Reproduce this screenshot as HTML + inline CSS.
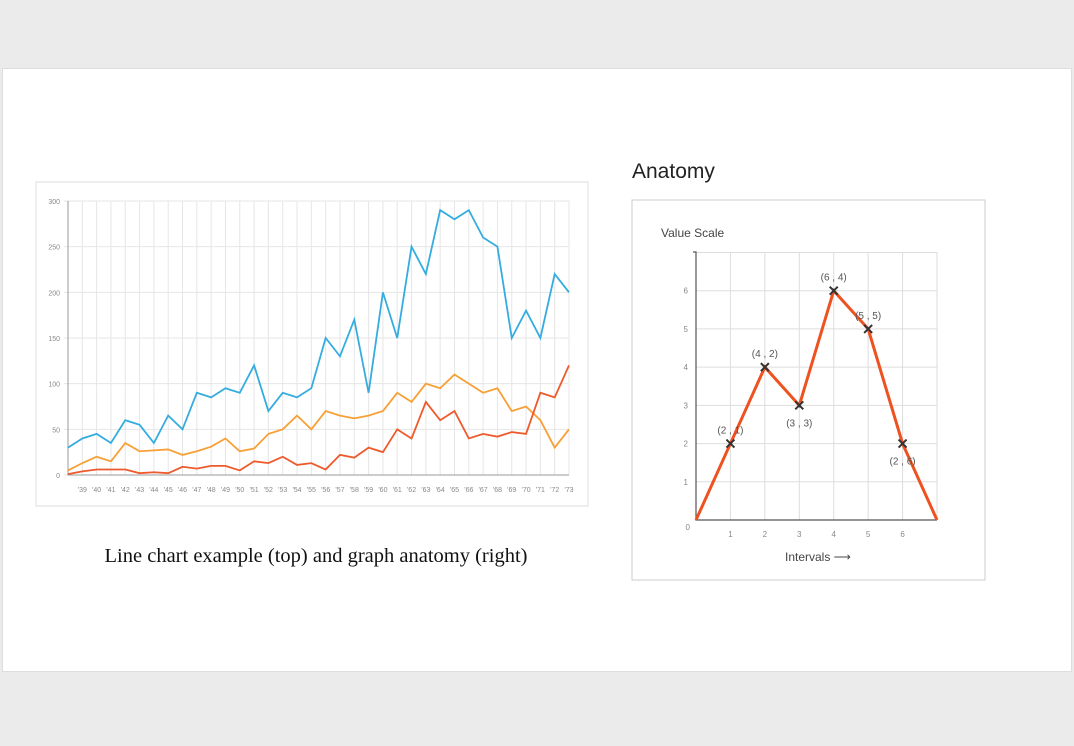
<!DOCTYPE html>
<html><head><meta charset="utf-8">
<style>
body{margin:0;background:#ebebeb;width:1074px;height:746px;overflow:hidden;font-family:"Liberation Sans",sans-serif;}
#slide{position:absolute;left:2px;top:68px;width:1070px;height:604px;background:#fff;border:1px solid #ddd;box-sizing:border-box;}
svg{position:absolute;left:0;top:0;}
</style></head><body>
<div id="slide"></div>
<svg id="s" width="1074" height="746">
<rect x="36" y="182" width="552" height="324" fill="#fff" stroke="#ddd"/>
<rect x="632" y="200" width="353" height="380" fill="#fff" stroke="#ccc"/>
<text x="632" y="178" font-size="21" fill="#222">Anatomy</text>
<text x="316" y="562" font-size="20.5" font-family="Liberation Serif,serif" text-anchor="middle" fill="#111">Line chart example (top) and graph anatomy (right)</text>
<g id="g1"></g><g id="g2"></g>
</svg>
<script>
const years=[];for(let y=38;y<=73;y++)years.push(y);
const blueVals=[30,40,45,35,60,55,35,65,50,90,85,95,90,120,70,90,85,95,150,130,170,90,200,150,250,220,290,280,290,260,250,150,180,150,220,200];
const orangeVals=[5,13,20,15,35,26,27,28,22,26,31,40,26,29,45,50,65,50,70,65,62,65,70,90,80,100,95,110,100,90,95,70,75,60,30,50];
const redVals=[1,4,6,6,6,2,3,2,9,7,10,10,5,15,13,20,11,13,6,22,19,30,25,50,40,80,60,70,40,45,42,47,45,90,85,120];
const yTicks=[0,50,100,150,200,250,300];
const NS='http://www.w3.org/2000/svg';
function mk(p,t,a){const e=document.createElementNS(NS,t);for(const k in a)e.setAttribute(k,a[k]);p.appendChild(e);return e;}
const g1=document.getElementById('g1');
const X=i=>68+i*(569-68)/35, Y=v=>475-v*(475-201)/300;
for(let i=0;i<years.length;i++){const l=mk(g1,'line',{x1:X(i),x2:X(i),y1:201,y2:475,stroke:'#e6e6e6'});

if(i>0){const t=mk(g1,'text',{x:X(i),y:492,'font-size':7,fill:'#888','text-anchor':'middle'});t.textContent="'"+years[i];
}}
yTicks.forEach(v=>{const l=mk(g1,'line',{x1:64,x2:569,y1:Y(v),y2:Y(v),stroke:'#e6e6e6'});

const t=mk(g1,'text',{x:60,y:Y(v)+3,'font-size':7,fill:'#888','text-anchor':'end'});t.textContent=v;
});
let ax=mk(g1,'path',{d:'M68 201V475H569',fill:'none',stroke:'#999'});

[[blueVals,'#35ace0','blue-series'],[orangeVals,'#f7a035','orange-series'],[redVals,'#ee5a2c','red-series']].forEach(([d,c,n])=>{
const p=mk(g1,'polyline',{points:d.map((v,i)=>X(i)+','+Y(v)).join(' '),fill:'none',stroke:c,'stroke-width':1.8});
});
// anatomy
const axVals=[0,1,2,3,4,5,6,7];
const ayVals=[0,2,4,3,6,5,2,0];
const ptLabels=['','(2 , 1)','(4 , 2)','(3 , 3)','(6 , 4)','(5 , 5)','(2 , 6)',''];
const g2=document.getElementById('g2');
const AX=v=>696+v*(937-696)/7, AY=v=>520-v*(520-290.7)/6;
for(let v=1;v<=7;v++){const l=mk(g2,'line',{x1:AX(v),x2:AX(v),y1:252,y2:520,stroke:'#ddd'});

if(v<7){const t=mk(g2,'text',{x:AX(v),y:537,'font-size':8,fill:'#888','text-anchor':'middle'});t.textContent=v;
}}
for(let v=1;v<=7;v++){const l=mk(g2,'line',{x1:696,x2:937,y1:AY(v),y2:AY(v),stroke:'#ddd'});

if(v<7){const t=mk(g2,'text',{x:688,y:AY(v)+3,'font-size':8,fill:'#888','text-anchor':'end'});t.textContent=v;
}}
let z=mk(g2,'text',{x:690,y:530,'font-size':8,fill:'#888','text-anchor':'end'});z.textContent='0';

ax=mk(g2,'path',{d:'M693 252H696V520H937',fill:'none',stroke:'#555','stroke-width':1.2});

let t=mk(g2,'text',{x:661,y:237,'font-size':12,fill:'#444'});t.textContent='Value Scale';

t=mk(g2,'text',{x:785,y:561,'font-size':12,fill:'#444'});t.textContent='Intervals ⟶';

const pl=mk(g2,'polyline',{points:axVals.map((v,i)=>AX(v)+','+AY(ayVals[i])).join(' '),fill:'none',stroke:'#ee5220','stroke-width':3});

const below=[false,false,false,true,false,false,true,false];
for(let i=1;i<7;i++){const x=AX(axVals[i]),y=AY(ayVals[i]);
const m=mk(g2,'path',{d:`M${x-4} ${y-4}L${x+4} ${y+4}M${x+4} ${y-4}L${x-4} ${y+4}`,stroke:'#333','stroke-width':2});

const lb=mk(g2,'text',{x:x,y:below[i]?y+21:y-10,'font-size':10,fill:'#555','text-anchor':'middle'});lb.textContent=ptLabels[i];
}
</script>
</body></html>
